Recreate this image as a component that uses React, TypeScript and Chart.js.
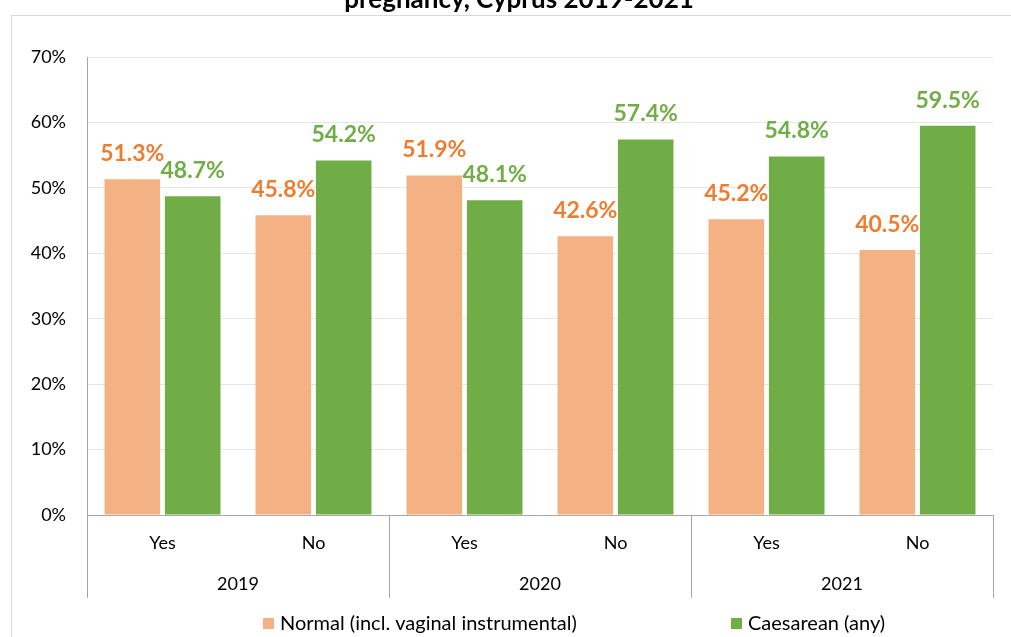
import React, { useEffect, useRef } from "react";
import { Chart, registerables } from "chart.js";

Chart.register(...registerables);

const titleText = "pregnancy, Cyprus 2019-2021";
const years = ["2019", "2020", "2021"];
const groups = ["Yes", "No", "Yes", "No", "Yes", "No"];
const seriesNames = ["Normal (incl. vaginal instrumental)", "Caesarean (any)"];
const normalValues = [51.3, 45.8, 51.9, 42.6, 45.2, 40.5];
const caesareanValues = [48.7, 54.2, 48.1, 57.4, 54.8, 59.5];
const yMin = 0;
const yMax = 70;
const yStep = 10;

const barColors = ["#F4B183", "#70AD47"];
const labelColors = ["#ED7D31", "#70AD47"];
const FONT = "Lato, 'Open Sans', sans-serif";
const AXIS_GRAY = "#A6A6A6";

const overlayPlugin = {
  id: "overlay",
  afterDatasetsDraw(chart: any) {
    const ctx = chart.ctx;
    ctx.save();
    ctx.font = `bold 23px ${FONT}`;
    ctx.textAlign = "center";
    ctx.textBaseline = "alphabetic";
    chart.data.datasets.forEach((ds: any, di: number) => {
      const meta = chart.getDatasetMeta(di);
      ctx.fillStyle = labelColors[di];
      meta.data.forEach((bar: any, i: number) => {
        const v = ds.data[i] as number;
        ctx.fillText(v.toFixed(1) + "%", bar.x, bar.y - 18);
      });
    });
    ctx.restore();
  },
  afterDraw(chart: any) {
    const ctx = chart.ctx;
    const xs = chart.scales.x;
    const area = chart.chartArea;
    ctx.save();
    // group separators
    const per = groups.length / years.length;
    const bounds: number[] = [area.left];
    for (let g = 1; g < years.length; g++) {
      const a = xs.getPixelForValue(g * per - 1);
      const b = xs.getPixelForValue(g * per);
      bounds.push((a + b) / 2);
    }
    bounds.push(area.right);
    ctx.strokeStyle = AXIS_GRAY;
    ctx.lineWidth = 1;
    bounds.forEach((bx) => {
      const px = Math.round(bx) + 0.5;
      ctx.beginPath();
      ctx.moveTo(px, area.bottom);
      ctx.lineTo(px, 598);
      ctx.stroke();
    });
    // year labels
    ctx.fillStyle = "#000";
    ctx.font = `18px ${FONT}`;
    ctx.textAlign = "center";
    ctx.textBaseline = "middle";
    years.forEach((y, g) => {
      ctx.fillText(y, (bounds[g] + bounds[g + 1]) / 2, 584);
    });
    // title
    ctx.font = `bold 26px ${FONT}`;
    ctx.textBaseline = "alphabetic";
    ctx.fillText(titleText, 519, 8);
    // legend
    ctx.font = `20px ${FONT}`;
    ctx.textAlign = "left";
    ctx.textBaseline = "middle";
    const starts = [263, 731];
    seriesNames.forEach((name, i) => {
      ctx.fillStyle = barColors[i];
      ctx.fillRect(starts[i], 618, 11, 11);
      ctx.fillStyle = "#000";
      ctx.fillText(name, starts[i] + 17, 624);
    });
    ctx.restore();
  },
};

export default function App() {
  const ref = useRef<HTMLCanvasElement | null>(null);
  useEffect(() => {
    if (!ref.current) return;
    const chart = new Chart(ref.current, {
      type: "bar",
      data: {
        labels: groups,
        datasets: [
          {
            label: seriesNames[0],
            data: normalValues,
            backgroundColor: barColors[0],
            categoryPercentage: 0.8,
            barPercentage: 0.92,
          },
          {
            label: seriesNames[1],
            data: caesareanValues,
            backgroundColor: barColors[1],
            categoryPercentage: 0.8,
            barPercentage: 0.92,
          },
        ],
      },
      options: {
        responsive: false,
        animation: false,
        layout: { padding: { left: 0, top: 57, right: 18, bottom: 0 } },
        plugins: {
          legend: { display: false },
          title: { display: false },
          tooltip: { enabled: false },
        },
        scales: {
          x: {
            grid: { display: false, drawTicks: false },
            border: { display: true, color: AXIS_GRAY, width: 1 },
            ticks: {
              color: "#000",
              font: { family: FONT, size: 18 },
              padding: 17,
              maxRotation: 0,
            },
            afterFit(s: any) {
              s.height = 122;
            },
          },
          y: {
            min: yMin,
            max: yMax,
            grid: { color: "#E6E6E6", drawTicks: false },
            border: { display: true, color: AXIS_GRAY, width: 1 },
            ticks: {
              stepSize: yStep,
              color: "#000",
              font: { family: FONT, size: 18 },
              padding: 21,
              callback: (v: any) => v + "%",
            },
            afterFit(s: any) {
              s.width = 87;
            },
          },
        },
      },
      plugins: [overlayPlugin],
    });
    return () => chart.destroy();
  }, []);
  return (
    <div style={{ position: "absolute", left: 0, top: 0, width: 1011, height: 637, overflow: "hidden", background: "#fff" }}>
      <div
        style={{
          position: "absolute",
          left: 11,
          top: 15,
          width: 1100,
          height: 700,
          border: "1px solid #D9D9D9",
          boxSizing: "border-box",
        }}
      />
      <canvas ref={ref} width={1011} height={637} style={{ position: "absolute", left: 0, top: 0 }} />
    </div>
  );
}
